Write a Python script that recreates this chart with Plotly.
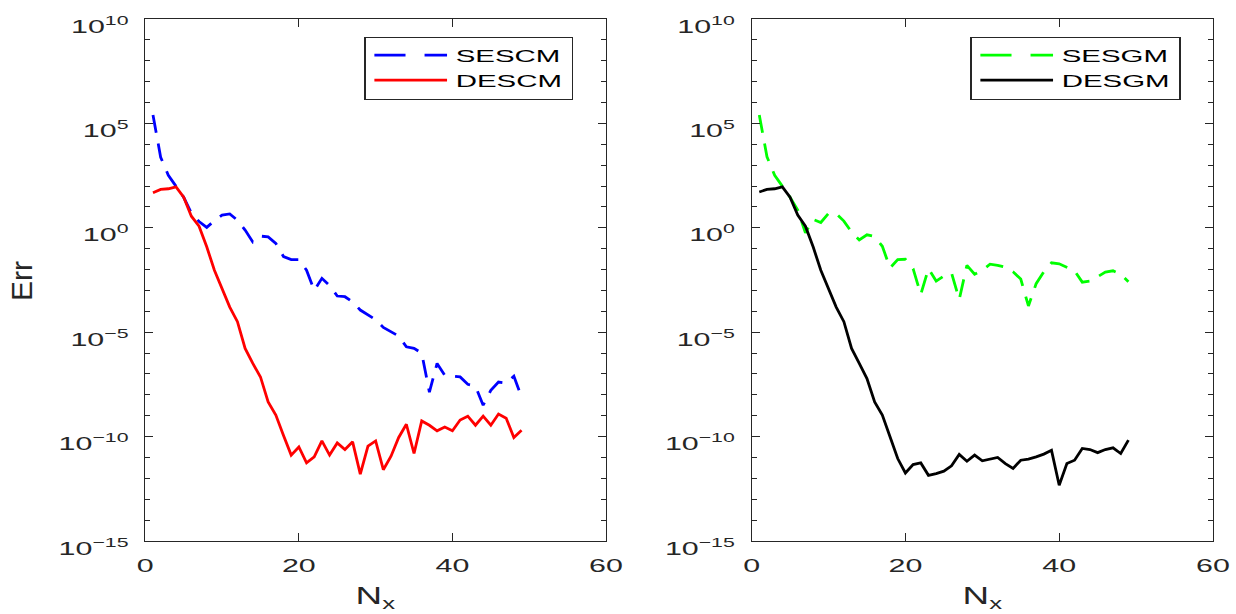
import plotly.graph_objects as go

# Grid sizes N_x = 1..49
n_x = list(range(1, 50))

# Errors, single-exponential / double-exponential collocation (left panel)
err_sescm = [2.5e5, 2.4e3, 3.3e2, 1.0e2, 29, 5.0, 2.0, 1.05, 2.2, 4.1,
             4.6, 2.3, 0.78, 0.21, 0.40, 0.37, 0.18, 0.042, 0.030, 0.030,
             9.3e-3, 1.0e-3, 3.8e-3, 1.7e-3, 5.4e-4, 5.0e-4, 2.8e-4, 1.15e-4, 6.6e-5, 4.0e-5,
             1.7e-5, 1.05e-5, 6.5e-6, 2.0e-6, 1.7e-6, 1.0e-6, 1.35e-8, 3.2e-7, 8.7e-8, 7.9e-8,
             7.2e-8, 3.2e-8, 2.6e-8, 3.2e-9, 1.66e-8, 4.1e-8, 3.7e-8, 7.8e-8, 7.9e-9]
err_descm = [48, 69, 74, 91, 29, 3.6, 1.2, 0.123, 9.3e-3, 1.26e-3,
             1.6e-4, 3.2e-5, 1.66e-6, 3.2e-7, 7.2e-8, 4.6e-9, 1.07e-9, 1.12e-10, 1.3e-11, 3.2e-11,
             5.5e-12, 1.07e-11, 6.2e-11, 1.3e-11, 5.0e-11, 2.4e-11, 5.6e-11, 1.6e-12, 3.5e-11, 6.2e-11,
             2.6e-12, 1.15e-11, 9.1e-11, 3.9e-10, 1.55e-11, 5.6e-10, 3.5e-10, 1.9e-10, 2.9e-10, 1.9e-10,
             6.2e-10, 9.5e-10, 3.5e-10, 9.5e-10, 3.5e-10, 1.2e-9, 7.6e-10, 9.1e-11, 2.0e-10]

# Errors, single-exponential / double-exponential Galerkin (right panel)
err_sesgm = [2.5e5, 2.5e3, 3.3e2, 1.0e2, 29, 7.1, 0.58, 2.5, 1.8, 4.9,
             4.8, 2.1, 0.63, 0.26, 0.46, 0.38, 0.13, 0.012, 0.030, 0.031,
             0.011, 6.5e-4, 0.011, 2.8e-3, 4.9e-3, 6.9e-3, 3.7e-4, 0.016, 6.0e-3, 9.3e-3,
             0.018, 0.016, 0.013, 7.8e-3, 3.5e-3, 1.8e-4, 2.1e-3, 7.8e-3, 0.021, 0.019,
             0.013, 8.7e-3, 2.5e-3, 2.8e-3, 4.5e-3, 7.6e-3, 8.7e-3, 6.0e-3, 2.6e-3]
err_desgm = [52, 69, 74, 91, 29, 4.1, 1.2, 0.123, 9.3e-3, 1.26e-3,
             1.6e-4, 3.2e-5, 1.66e-6, 3.2e-7, 6.0e-8, 4.6e-9, 1.07e-9, 9.8e-11, 8.9e-12, 1.8e-12,
             4.6e-12, 5.5e-12, 1.4e-12, 1.7e-12, 2.2e-12, 4.0e-12, 1.4e-11, 6.6e-12, 1.3e-11, 6.9e-12,
             8.3e-12, 1.0e-11, 5.1e-12, 3.0e-12, 7.4e-12, 8.3e-12, 1.07e-11, 1.45e-11, 2.2e-11, 4.7e-13,
             5.1e-12, 7.4e-12, 2.7e-11, 2.4e-11, 1.7e-11, 2.4e-11, 2.9e-11, 1.55e-11, 6.8e-11]

x_ticks = [0, 20, 40, 60]
y_ticks = [1e-15, 1e-10, 1e-5, 1e0, 1e5, 1e10]
y_ticktext = ["10<sup>\u221215</sup>", "10<sup>\u221210</sup>", "10<sup>\u22125</sup>",
              "10<sup>0</sup>", "10<sup>5</sup>", "10<sup>10</sup>"]

W, H = 1236, 614
AX = "#262626"
FONT = "Liberation Sans, Arial, Helvetica, sans-serif"
DASH = "18px,11px"
LW = 2.8

fig = go.Figure()
fig.add_trace(go.Scatter(x=n_x, y=err_sescm, name="SESCM", mode="lines",
                         line=dict(color="#0000FF", width=LW, dash=DASH),
                         xaxis="x", yaxis="y", legend="legend"))
fig.add_trace(go.Scatter(x=n_x, y=err_descm, name="DESCM", mode="lines",
                         line=dict(color="#FF0000", width=LW),
                         xaxis="x", yaxis="y", legend="legend"))
fig.add_trace(go.Scatter(x=n_x, y=err_sesgm, name="SESGM", mode="lines",
                         line=dict(color="#00FF00", width=LW, dash=DASH),
                         xaxis="x2", yaxis="y2", legend="legend2"))
fig.add_trace(go.Scatter(x=n_x, y=err_desgm, name="DESGM", mode="lines",
                         line=dict(color="#000000", width=LW),
                         xaxis="x2", yaxis="y2", legend="legend2"))

# plot-area rectangles in pixels
left_px = (145.3, 606.0)
right_px = (751.6, 1213.0)
top_px, bottom_px = 19.0, 541.0
ydom = [(H - bottom_px) / H, (H - top_px) / H]


def xaxis_style(domain):
    return dict(domain=[domain[0] / W, domain[1] / W], range=[0, 60],
                tickmode="array", tickvals=x_ticks, automargin=False,
                ticks="inside", ticklen=8, tickwidth=1, tickcolor=AX,
                showline=True, linecolor=AX, linewidth=1, mirror="ticks",
                showgrid=False, zeroline=False, ticklabelstandoff=7,
                tickfont=dict(family=FONT, size=19, color=AX))


def yaxis_style(anchor):
    return dict(domain=ydom, type="log", range=[-15, 10], anchor=anchor,
                tickmode="array", tickvals=y_ticks, ticktext=y_ticktext, automargin=False,
                ticks="inside", ticklen=8, tickwidth=1, tickcolor=AX,
                minor=dict(dtick=1, ticks="inside", ticklen=5, tickcolor=AX, showgrid=False),
                showline=True, linecolor=AX, linewidth=1, mirror="ticks",
                showgrid=False, zeroline=False, ticklabelstandoff=12,
                tickfont=dict(family=FONT, size=19, color=AX))


def legend_style(x_px):
    return dict(x=x_px / W, y=(H - 36.5) / H, xanchor="left", yanchor="top",
                bgcolor="white", bordercolor=AX, borderwidth=1,
                font=dict(family=FONT, size=17, color="black"),
                itemwidth=42, tracegroupgap=0)


fig.update_layout(
    width=W, height=H, margin=dict(l=0, r=0, t=0, b=0, autoexpand=False),
    paper_bgcolor="white", plot_bgcolor="white",
    showlegend=True, hovermode=False,
    xaxis=dict(anchor="y", **xaxis_style(left_px)),
    yaxis=yaxis_style("x"),
    xaxis2=dict(anchor="y2", **xaxis_style(right_px)),
    yaxis2=yaxis_style("x2"),
    legend=legend_style(364),
    legend2=legend_style(970),
    annotations=[
        dict(text="N<sub>x</sub>", x=(left_px[0] + left_px[1]) / 2 / W, y=(H - 581) / H,
             xref="paper", yref="paper", xanchor="center", yanchor="top", showarrow=False,
             font=dict(family=FONT, size=23, color=AX)),
        dict(text="N<sub>x</sub>", x=(right_px[0] + right_px[1]) / 2 / W, y=(H - 581) / H,
             xref="paper", yref="paper", xanchor="center", yanchor="top", showarrow=False,
             font=dict(family=FONT, size=23, color=AX)),
        dict(text="Err", x=21 / W, y=(H - 281) / H, textangle=-90,
             xref="paper", yref="paper", xanchor="center", yanchor="middle", showarrow=False,
             font=dict(family=FONT, size=30, color=AX)),
    ],
)

# Widen the lettering horizontally (wide sans lettering of the figure) and
# drop the y tick labels so the mantissa sits below the tick, superscript beside it.
# Re-applied whenever plotly repositions a label.
stretch_js = """
(function(){
  var gd = document.getElementById('{plot_id}');
  var SX_TEXT = 1.6, SX_LEG = 1.73, YTICK_DY = 7;
  var LEG = 'g.infolayer > g.legend, g.infolayer > g.legend2';
  function rotated(el){
    while (el && el.tagName && el.tagName.toLowerCase() !== 'svg') {
      var tr = el.getAttribute && el.getAttribute('transform');
      if (tr && /rotate\\(\\s*-?[1-9]/.test(tr)) return true;
      el = el.parentNode;
    }
    return false;
  }
  function widenText(t){
    if (t.closest(LEG)) return;
    if (rotated(t)) return;
    var cur = t.getAttribute('transform') || '';
    if (t.getAttribute('data-wide') === cur) return;
    var x = parseFloat(t.getAttribute('x') || '0');
    var dy = t.closest('g.ytick, g.y2tick') ? YTICK_DY : 0;
    var nt = cur + ' translate(' + x + ',' + dy + ') scale(' + SX_TEXT + ',1) translate(' + (-x) + ',0)';
    t.setAttribute('data-wide', nt);
    t.setAttribute('transform', nt);
  }
  function widen(){
    gd.querySelectorAll('svg text').forEach(widenText);
    gd.querySelectorAll(LEG).forEach(function(g){
      var cur = g.getAttribute('transform') || '';
      if (g.getAttribute('data-wide') === cur) return;
      var nt = cur + ' scale(' + SX_LEG + ',1)';
      g.setAttribute('data-wide', nt);
      g.setAttribute('transform', nt);
    });
  }
  widen();
  gd.on('plotly_afterplot', widen);
  new MutationObserver(function(){ widen(); }).observe(gd, {
    subtree: true, childList: true, attributes: true, attributeFilter: ['transform', 'x']
  });
  [0, 30, 100, 300, 800].forEach(function(ms){ setTimeout(widen, ms); });
})();
"""

fig.write_html("out.html", post_script=stretch_js, config={"displayModeBar": False})
